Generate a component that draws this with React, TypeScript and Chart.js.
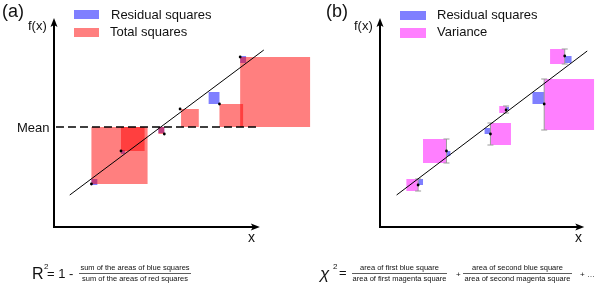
import React, { useEffect, useRef } from "react";
import { Chart, registerables } from "chart.js";

Chart.register(...registerables);

const FONT = "'Liberation Sans', Arial, Helvetica, sans-serif";
const BLUE = "rgba(0,0,255,0.5)";
const RED = "rgba(255,0,0,0.5)";
const MAGENTA = "rgba(255,0,255,0.5)";
const INK = "#111";

// ---------- Panel (a): R^2 ----------
const dataAx = [1.9, 3.4, 5.6, 6.4, 8.4, 9.45];
const dataAy = [2.15, 3.8, 4.65, 5.9, 6.15, 8.5];
const meanA = 5.0;
const meanSpanA = [0.1, 10.3];
const fitAx = [0.8, 10.65];
const fitAy = [1.6, 8.85];
// squares as [x0, x1, y0, y1]
const totalSquaresA = [
  [1.9, 4.75, 2.15, 5.0],
  [3.4, 4.6, 3.8, 5.0],
  [5.3, 5.6, 4.65, 5.0],
  [6.45, 7.35, 5.0, 5.9],
  [8.4, 9.6, 5.0, 6.15],
  [9.45, 13.0, 5.0, 8.5],
];
const residualSquaresA = [
  [1.9, 2.2, 2.1, 2.4],
  [3.4, 3.6, 3.65, 3.85],
  [5.3, 5.6, 4.7, 5.0],
  [7.85, 8.4, 6.15, 6.75],
  [9.45, 9.75, 8.2, 8.55],
];

// ---------- Panel (b): chi^2 ----------
const dataBx = [1.95, 3.4, 5.65, 6.45, 8.4, 9.45];
const dataBy = [2.1, 3.8, 4.65, 5.85, 6.15, 8.55];
const errLowB = [1.8, 3.2, 4.1, 5.7, 4.85, 8.15];
const errHighB = [2.4, 4.4, 5.2, 6.05, 7.4, 8.9];
const fitBx = [0.85, 10.6];
const fitBy = [1.6, 8.8];
const varianceSquaresB = [
  [1.35, 1.95, 1.8, 2.4],
  [2.2, 3.4, 3.2, 4.4],
  [5.65, 6.7, 4.1, 5.2],
  [6.1, 6.45, 5.7, 6.05],
  [8.4, 10.95, 4.85, 7.4],
  [8.7, 9.45, 8.15, 8.9],
];
const residualSquaresB = [
  [1.95, 2.2, 2.1, 2.4],
  [3.4, 3.6, 3.55, 3.8],
  [5.35, 5.65, 4.65, 4.95],
  [6.45, 6.6, 5.85, 6.0],
  [7.8, 8.4, 6.15, 6.75],
  [9.45, 9.8, 8.2, 8.55],
];

const axisEnd = 10.45;

function rectDataset(r: number[], color: string, order: number) {
  const [x0, x1, y0, y1] = r;
  return {
    data: [
      { x: x0, y: y0 },
      { x: x1, y: y0 },
      { x: x1, y: y1 },
      { x: x0, y: y1 },
      { x: x0, y: y0 },
    ],
    borderWidth: 0,
    borderColor: "rgba(0,0,0,0)",
    backgroundColor: color,
    fill: "shape",
    pointRadius: 0,
    tension: 0,
    order,
  };
}

function lineDataset(xs: number[], ys: number[], extra: any) {
  return {
    data: xs.map((x, i) => ({ x, y: ys[i] })),
    borderColor: "#000",
    borderWidth: 1,
    pointRadius: 0,
    fill: false,
    tension: 0,
    ...extra,
  };
}

function pointsDataset(xs: number[], ys: number[]) {
  return {
    data: xs.map((x, i) => ({ x, y: ys[i] })),
    showLine: false,
    pointRadius: 1.4,
    pointBackgroundColor: "#000",
    pointBorderWidth: 0,
    fill: false,
    order: 0,
  };
}

function txt(ctx: CanvasRenderingContext2D, s: string, x: number, y: number, size: number, align: CanvasTextAlign = "left", style = "") {
  ctx.font = `${style} ${size}px ${FONT}`.trim();
  ctx.textAlign = align;
  ctx.textBaseline = "alphabetic";
  ctx.fillStyle = INK;
  ctx.fillText(s, x, y);
}

function drawAxes(chart: any) {
  const { ctx } = chart;
  const xs = chart.scales.x;
  const ys = chart.scales.y;
  const ox = xs.getPixelForValue(0);
  const oy = ys.getPixelForValue(0);
  const ex = xs.getPixelForValue(axisEnd);
  const ey = ys.getPixelForValue(axisEnd);
  ctx.save();
  ctx.strokeStyle = "#000";
  ctx.fillStyle = "#000";
  ctx.lineWidth = 2;
  ctx.beginPath();
  ctx.moveTo(ox, ey + 6);
  ctx.lineTo(ox, oy);
  ctx.lineTo(ex - 6, oy);
  ctx.stroke();
  ctx.beginPath();
  ctx.moveTo(ox, ey);
  ctx.lineTo(ox - 3.5, ey + 9);
  ctx.lineTo(ox, ey + 7);
  ctx.lineTo(ox + 3.5, ey + 9);
  ctx.closePath();
  ctx.fill();
  ctx.beginPath();
  ctx.moveTo(ex, oy);
  ctx.lineTo(ex - 9, oy - 3.5);
  ctx.lineTo(ex - 7, oy);
  ctx.lineTo(ex - 9, oy + 3.5);
  ctx.closePath();
  ctx.fill();
  ctx.restore();
}

function fraction(ctx: CanvasRenderingContext2D, num: string, den: string, x0: number, x1: number) {
  const cx = (x0 + x1) / 2;
  txt(ctx, num, cx, 270, 7.5, "center");
  txt(ctx, den, cx, 281, 7.5, "center");
  ctx.save();
  ctx.strokeStyle = "#333";
  ctx.lineWidth = 0.8;
  ctx.beginPath();
  ctx.moveTo(x0, 273.5);
  ctx.lineTo(x1, 273.5);
  ctx.stroke();
  ctx.restore();
}

const decorA = {
  id: "decorA",
  afterDatasetsDraw(chart: any) {
    drawAxes(chart);
  },
  afterDraw(chart: any) {
    const ctx = chart.ctx as CanvasRenderingContext2D;
    const ys = chart.scales.y;
    ctx.save();
    txt(ctx, "(a)", 2, 16.5, 18);
    txt(ctx, "f(x)", 28, 29.5, 13);
    ctx.fillStyle = BLUE;
    ctx.fillRect(74, 10, 25, 9);
    ctx.fillStyle = RED;
    ctx.fillRect(74, 28, 25, 9);
    txt(ctx, "Residual squares", 111, 19, 13);
    txt(ctx, "Total squares", 110, 35.5, 13);
    txt(ctx, "Mean", 17, ys.getPixelForValue(meanA) + 4.5, 13);
    txt(ctx, "x", 248, 242, 14);
    txt(ctx, "R", 32, 278.5, 16);
    txt(ctx, "2", 44, 269, 8);
    txt(ctx, "= 1 -", 47, 278, 13);
    fraction(ctx, "sum of the areas of blue squares", "sum of the areas of red squares", 79, 191);
    ctx.restore();
  },
};

const decorB = {
  id: "decorB",
  afterDatasetsDraw(chart: any) {
    drawAxes(chart);
  },
  afterDraw(chart: any) {
    const ctx = chart.ctx as CanvasRenderingContext2D;
    ctx.save();
    txt(ctx, "(b)", 26, 17, 18);
    txt(ctx, "f(x)", 54, 29.5, 13);
    ctx.fillStyle = BLUE;
    ctx.fillRect(100, 11, 26, 9);
    ctx.fillStyle = MAGENTA;
    ctx.fillRect(100, 28, 26, 10);
    txt(ctx, "Residual squares", 137, 19, 13);
    txt(ctx, "Variance", 137, 36, 13);
    txt(ctx, "x", 275, 242, 14);
    txt(ctx, "\u03C7", 20, 278.5, 17, "left", "italic");
    txt(ctx, "2", 33, 269, 8);
    txt(ctx, "=", 39, 277, 13);
    fraction(ctx, "area of first blue square", "area of first magenta square", 52, 147);
    txt(ctx, "+", 156, 277, 8);
    fraction(ctx, "area of second blue square", "area of second magenta square", 163, 272);
    txt(ctx, "+ \u2026", 280, 277, 8);
    ctx.restore();
  },
};

function baseOptions(padLeft: number, xMax: number) {
  return {
    responsive: false,
    animation: false,
    events: [],
    layout: { padding: { left: padLeft, right: 0, top: 17, bottom: 58 } },
    scales: {
      x: { type: "linear", min: 0, max: xMax, display: false },
      y: { type: "linear", min: 0, max: 10.5, display: false },
    },
    plugins: { legend: { display: false }, tooltip: { enabled: false } },
  };
}

export default function App() {
  const refA = useRef<HTMLCanvasElement>(null);
  const refB = useRef<HTMLCanvasElement>(null);

  useEffect(() => {
    const datasetsA: any[] = [
      pointsDataset(dataAx, dataAy),
      lineDataset(fitAx, fitAy, { order: 1 }),
      lineDataset(meanSpanA, [meanA, meanA], { order: 2, borderDash: [8, 4], borderWidth: 1.3 }),
      ...totalSquaresA.map((r) => rectDataset(r, RED, 3)),
      ...residualSquaresA.map((r) => rectDataset(r, BLUE, 4)),
    ];
    const errData: any[] = [];
    dataBx.forEach((x, i) => {
      errData.push({ x, y: errLowB[i] }, { x, y: errHighB[i] }, { x, y: null });
    });
    const datasetsB: any[] = [
      pointsDataset(dataBx, dataBy),
      lineDataset(fitBx, fitBy, { order: 1 }),
      {
        data: errData,
        borderColor: "#9a9a9a",
        borderWidth: 1,
        pointStyle: "line",
        pointRadius: 3,
        pointBorderColor: "#9a9a9a",
        pointBorderWidth: 1,
        spanGaps: false,
        fill: false,
        order: 2,
      },
      ...varianceSquaresB.map((r) => rectDataset(r, MAGENTA, 3)),
      ...residualSquaresB.map((r) => rectDataset(r, BLUE, 4)),
    ];
    const chartA = new Chart(refA.current!, {
      type: "line",
      data: { datasets: datasetsA },
      options: baseOptions(54, 13.3) as any,
      plugins: [decorA],
    });
    const chartB = new Chart(refB.current!, {
      type: "line",
      data: { datasets: datasetsB },
      options: baseOptions(80, 11.05) as any,
      plugins: [decorB],
    });
    return () => {
      chartA.destroy();
      chartB.destroy();
    };
  }, []);

  return (
    <div style={{ position: "fixed", left: 0, top: 0, width: 601, height: 285, background: "#fff", overflow: "hidden" }}>
      <canvas ref={refA} width={320} height={285} style={{ position: "absolute", left: 0, top: 0, width: 320, height: 285 }} />
      <canvas ref={refB} width={301} height={285} style={{ position: "absolute", left: 300, top: 0, width: 301, height: 285 }} />
    </div>
  );
}
